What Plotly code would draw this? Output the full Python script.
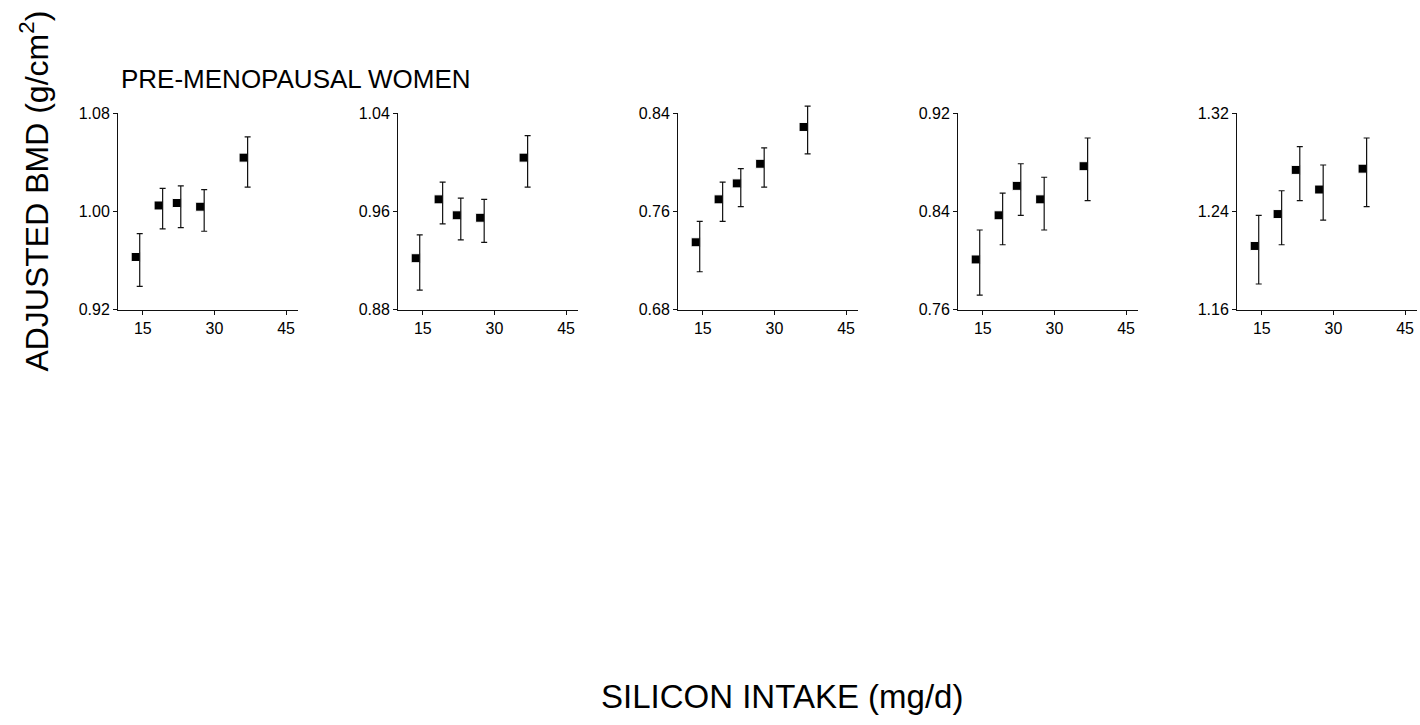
import plotly.graph_objects as go

# ---- data ----
silicon_intake = [13.5, 18.3, 22.1, 27.0, 36.1]

panel_ticks = [
    [0.92, 1.00, 1.08],
    [0.88, 0.96, 1.04],
    [0.68, 0.76, 0.84],
    [0.76, 0.84, 0.92],
    [1.16, 1.24, 1.32],
]

bmd_mean = [
    [0.963, 1.005, 1.007, 1.004, 1.044],
    [0.922, 0.970, 0.957, 0.955, 1.004],
    [0.735, 0.770, 0.783, 0.799, 0.829],
    [0.801, 0.837, 0.861, 0.850, 0.877],
    [1.212, 1.238, 1.274, 1.258, 1.275],
]
bmd_upper = [
    [0.982, 1.019, 1.021, 1.018, 1.061],
    [0.941, 0.984, 0.971, 0.970, 1.022],
    [0.752, 0.784, 0.795, 0.812, 0.846],
    [0.825, 0.855, 0.879, 0.868, 0.900],
    [1.237, 1.257, 1.293, 1.278, 1.300],
]
bmd_lower = [
    [0.939, 0.986, 0.987, 0.984, 1.020],
    [0.896, 0.950, 0.937, 0.935, 0.980],
    [0.711, 0.752, 0.764, 0.780, 0.807],
    [0.772, 0.813, 0.837, 0.825, 0.849],
    [1.181, 1.213, 1.249, 1.233, 1.244],
]
x_ticks = [15, 30, 45]

# ---- layout constants ----
W, H = 1420, 725
FONT = "Arial, Liberation Sans, sans-serif"
panel_left_px = [118, 398, 678, 958, 1237]
panel_width_px = 180
plot_top_px, plot_bottom_px = 108, 309
EXTRA_TOP_PX = 20  # headroom so error caps above the axis top are not clipped
ERR_OFFSET = 0.85
INK = "#111111"

fig = go.Figure()
for i in range(5):
    sfx = "" if i == 0 else str(i + 1)
    esfx = str(i + 6)
    xa, ya, ya_err = "x" + sfx, "y" + sfx, "y" + esfx
    ys = bmd_mean[i]
    up = [u - m for u, m in zip(bmd_upper[i], ys)]
    dn = [m - l for m, l in zip(ys, bmd_lower[i])]
    fig.add_trace(go.Scatter(
        x=silicon_intake, y=ys, mode="markers",
        marker=dict(symbol="square", size=9, color="black",
                    line=dict(width=1, color="white")),
        cliponaxis=False,
        xaxis=xa, yaxis=ya, showlegend=False))
    fig.add_trace(go.Scatter(
        x=[v + ERR_OFFSET for v in silicon_intake], y=ys, mode="markers",
        marker=dict(size=1, color="rgba(0,0,0,0)"),
        error_y=dict(type="data", array=up, arrayminus=dn, symmetric=False,
                     color=INK, thickness=1.2, width=3),
        xaxis=xa, yaxis=ya_err, showlegend=False, hoverinfo="skip"))

    x0 = panel_left_px[i] / W
    x1 = (panel_left_px[i] + panel_width_px) / W
    y0 = 1 - plot_bottom_px / H
    y1 = 1 - plot_top_px / H
    t = panel_ticks[i]
    axis_common = dict(showline=True, linecolor=INK, linewidth=1,
                       ticks="outside", ticklen=4, tickwidth=1, tickcolor=INK,
                       showgrid=False, zeroline=False,
                       tickfont=dict(family=FONT, size=16, color="black"))
    fig.layout["xaxis" + sfx] = dict(
        domain=[x0, x1], range=[9.8, 47.5], tickvals=x_ticks,
        ticktext=[str(v) for v in x_ticks], anchor=ya, **axis_common)
    fig.layout["yaxis" + sfx] = dict(
        domain=[y0, y1], range=[t[0], t[2]], tickvals=t,
        ticktext=[f"{v:.2f}" for v in t], anchor=xa, **axis_common)
    span = t[2] - t[0]
    plot_h = plot_bottom_px - plot_top_px
    fig.layout["yaxis" + esfx] = dict(
        domain=[y0, y1 + EXTRA_TOP_PX / H],
        range=[t[0], t[2] + span * EXTRA_TOP_PX / plot_h],
        visible=False, showgrid=False, zeroline=False, anchor=xa)

fig.add_annotation(text="PRE-MENOPAUSAL WOMEN", xref="paper", yref="paper",
                   x=119 / W, y=1 - 73 / H, xanchor="left", yanchor="middle",
                   showarrow=False, font=dict(family=FONT, size=26, color="black"))
fig.add_annotation(text="ADJUSTED BMD (g/cm<sup>2</sup>)", xref="paper", yref="paper",
                   x=34 / W, y=1 - 188 / H, xanchor="center", yanchor="middle",
                   textangle=-90, showarrow=False,
                   font=dict(family=FONT, size=32, color="black"))
fig.add_annotation(text="SILICON INTAKE (mg/d)", xref="paper", yref="paper",
                   x=782 / W, y=1 - 705 / H, xanchor="center", yanchor="middle",
                   showarrow=False, font=dict(family=FONT, size=33, color="black"))

fig.update_layout(width=W, height=H, margin=dict(l=0, r=0, t=0, b=0),
                  paper_bgcolor="white", plot_bgcolor="rgba(0,0,0,0)",
                  font=dict(family=FONT))
fig.write_html("out.html", config={"displayModeBar": False},
               post_script="document.body.style.margin='0';document.body.style.overflow='hidden';")
